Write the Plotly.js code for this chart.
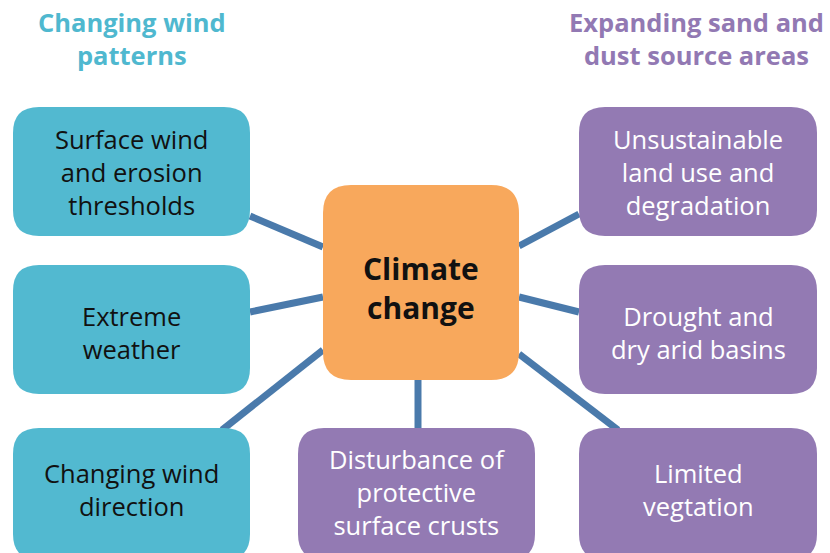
<!DOCTYPE html>
<html><head><meta charset="utf-8">
<script src="https://cdn.plot.ly/plotly-3.0.1.min.js"></script>
<style>html,body{margin:0;padding:0;background:#fff}#chart{width:830px;height:553px}</style>
</head><body><div id="chart"></div>
<script>
// ---- data ----
const groupTitles = [["Changing wind", "patterns"], ["Expanding sand and", "dust source areas"]];
const centerLabel = ["Climate", "change"];
const windFactors = [["Surface wind", "and erosion", "thresholds"], ["Extreme", "weather"], ["Changing wind", "direction"]];
const sourceFactors = [["Unsustainable", "land use and", "degradation"], ["Drought and", "dry arid basins"], ["Limited", "vegtation"], ["Disturbance of", "protective", "surface crusts"]];

// ---- layout geometry (pixels in a 830x553 frame) ----
const teal = "#52b9d0", purple = "#937ab3", orange = "#f8a85c", link = "#4a7aab";
const W = 830, H = 553;
const center = {x0: 323, x1: 519, y0: 185, y1: 380};
const windBoxes = [
  {x0: 13, x1: 250, y0: 107, y1: 236},
  {x0: 13, x1: 250, y0: 265, y1: 394},
  {x0: 13, x1: 250, y0: 428, y1: 560}
];
const sourceBoxes = [
  {x0: 579, x1: 817, y0: 107, y1: 236},
  {x0: 579, x1: 817, y0: 265, y1: 394},
  {x0: 579, x1: 817, y0: 428, y1: 560},
  {x0: 298, x1: 535, y0: 428, y1: 560}
];
const windLinks = [[250, 216, 323, 247], [250, 312, 323, 297], [222, 430, 323, 350]];
const sourceLinks = [[519, 246, 579, 214], [519, 297, 579, 312], [519, 354, 618, 430], [418, 380, 418, 428]];
const windTextMid = [172, 332, 489];
const sourceTextMid = [172, 332, 489, 492];

function rrect(b, r, fill) {
  const {x0, x1, y0, y1} = b;
  const p = `M${x0 + r},${y0} L${x1 - r},${y0} Q${x1},${y0} ${x1},${y0 + r} L${x1},${y1 - r} Q${x1},${y1} ${x1 - r},${y1} L${x0 + r},${y1} Q${x0},${y1} ${x0},${y1 - r} L${x0},${y0 + r} Q${x0},${y0} ${x0 + r},${y0} Z`;
  return {type: "path", path: p, xref: "x", yref: "y", fillcolor: fill, line: {width: 0}, layer: "above"};
}
function seg(l) {
  return {type: "line", xref: "x", yref: "y", x0: l[0], y0: l[1], x1: l[2], y1: l[3], line: {color: link, width: 7}, layer: "below"};
}

const shapes = [];
windLinks.forEach(l => shapes.push(seg(l)));
sourceLinks.forEach(l => shapes.push(seg(l)));
windBoxes.forEach(b => shapes.push(rrect(b, 26, teal)));
sourceBoxes.forEach(b => shapes.push(rrect(b, 26, purple)));
shapes.push(rrect(center, 28, orange));

const font = "'Open Sans', 'Noto Sans', sans-serif";
const ann = [];
function addBlock(lines, x, yMid, size, color, bold) {
  const t = lines.map(s => bold ? "<b>" + s + "</b>" : s).join("<br>");
  ann.push({text: t, x: x, y: yMid, xref: "x", yref: "y", showarrow: false, xanchor: "center", yanchor: "middle",
    align: "center", font: {family: font, size: size, color: color}});
}
addBlock(groupTitles[0], 132, 38, 25.5, "#4fb8cf", true);
addBlock(groupTitles[1], 696, 38, 25.5, "#9279b3", true);
addBlock(centerLabel, 421, 288, 30, "#111", true);
windFactors.forEach((t, i) => addBlock(t, (windBoxes[i].x0 + windBoxes[i].x1) / 2, windTextMid[i], 25.5, "#111", false));
sourceFactors.forEach((t, i) => addBlock(t, (sourceBoxes[i].x0 + sourceBoxes[i].x1) / 2, sourceTextMid[i], 25.5, "#ffffff", false));

const layout = {
  width: W, height: H, margin: {l: 0, r: 0, t: 0, b: 0},
  paper_bgcolor: "#fff", plot_bgcolor: "#fff", showlegend: false,
  xaxis: {range: [0, W], visible: false, fixedrange: true},
  yaxis: {range: [H, 0], visible: false, fixedrange: true},
  shapes: shapes, annotations: ann
};
Plotly.newPlot("chart", [{x: [0], y: [0], mode: "markers", marker: {opacity: 0}, hoverinfo: "skip"}], layout, {staticPlot: true, displayModeBar: false});
</script></body></html>
